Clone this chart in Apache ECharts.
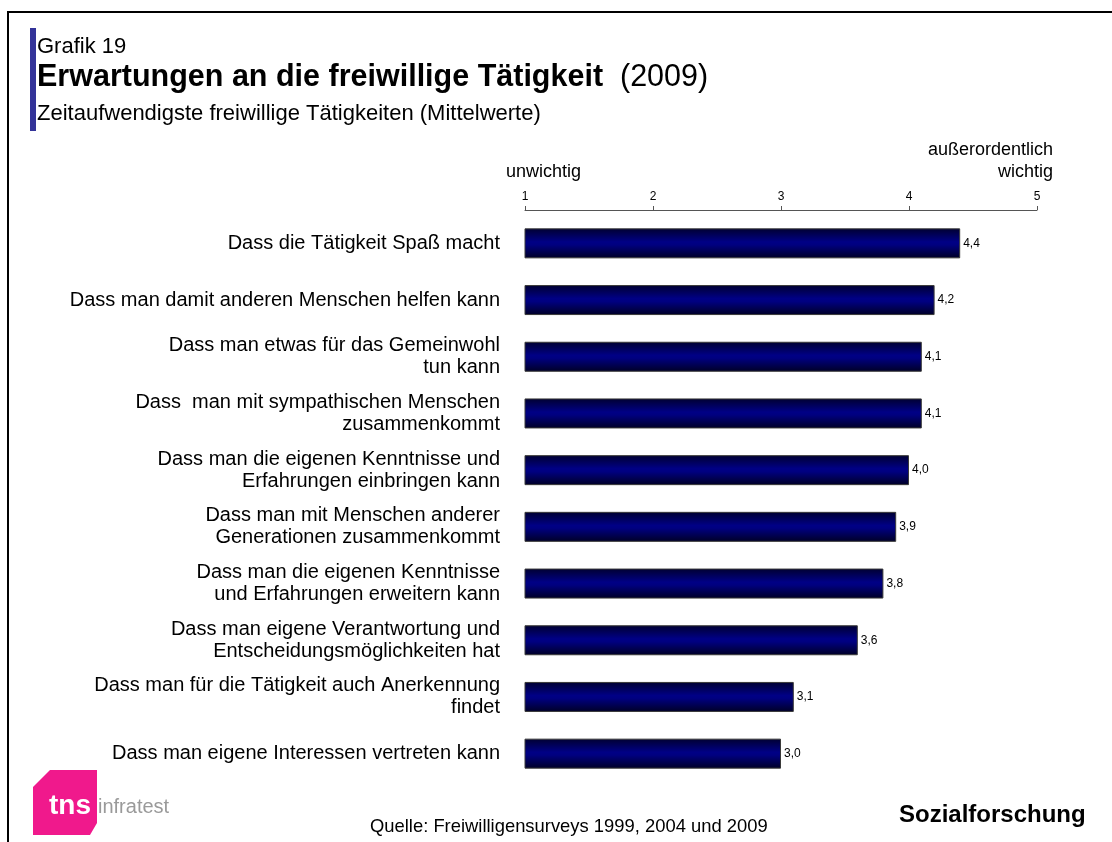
<!DOCTYPE html>
<html><head><meta charset="utf-8">
<script src="https://cdn.jsdelivr.net/npm/echarts@6/dist/echarts.min.js"></script>
<style>html,body{margin:0;padding:0;background:#fff}#c{width:1112px;height:842px}</style>
</head><body><div id="c"></div>
<script>
const categories = [
  "Dass die Tätigkeit Spaß macht",
  "Dass man damit anderen Menschen helfen kann",
  "Dass man etwas für das Gemeinwohl\ntun kann",
  "Dass  man mit sympathischen Menschen\nzusammenkommt",
  "Dass man die eigenen Kenntnisse und\nErfahrungen einbringen kann",
  "Dass man mit Menschen anderer\nGenerationen zusammenkommt",
  "Dass man die eigenen Kenntnisse\nund Erfahrungen erweitern kann",
  "Dass man eigene Verantwortung und\nEntscheidungsmöglichkeiten hat",
  "Dass man für die Tätigkeit auch Anerkennung\nfindet",
  "Dass man eigene Interessen vertreten kann"
];
const values = [4.4, 4.2, 4.1, 4.1, 4.0, 3.9, 3.8, 3.6, 3.1, 3.0];
const tickLabels = ["1", "2", "3", "4", "5"];

const FONT = "'Liberation Sans', Arial, sans-serif";
const chart = echarts.init(document.getElementById('c'), null, {renderer: 'canvas'});
chart.setOption({
  animation: false,
  textStyle: {fontFamily: FONT},
  grid: {left: 525, right: 75, top: 215, height: 567, containLabel: false},
  xAxis: {
    type: 'value', position: 'top', min: 1, max: 5, interval: 1, offset: 5,
    axisLine: {show: true, lineStyle: {color: '#555', width: 1}},
    axisTick: {show: true, length: 4, lineStyle: {color: '#555'}},
    splitLine: {show: false},
    axisLabel: {color: '#000', fontSize: 12, fontFamily: FONT, margin: 7,
      formatter: v => tickLabels[Math.round(v) - 1] || ''}
  },
  yAxis: {
    type: 'category', data: categories, inverse: true,
    axisLine: {show: false}, axisTick: {show: false},
    axisLabel: {color: '#000', fontSize: 20, fontFamily: FONT, margin: 25, lineHeight: 22, align: 'right'}
  },
  series: [{
    type: 'bar', data: values, barWidth: 30,
    itemStyle: {
      color: {type: 'linear', x: 0, y: 0, x2: 0, y2: 1, colorStops: [
        {offset: 0, color: '#000030'}, {offset: 0.45, color: '#000085'},
        {offset: 0.55, color: '#000080'}, {offset: 1, color: '#000025'}]},
      borderColor: '#3a3a3a', borderWidth: 1
    },
    label: {show: true, position: 'right', distance: 3, color: '#000', fontSize: 12, fontFamily: FONT,
      formatter: p => p.value.toFixed(1).replace('.', ',')}
  }],
  graphic: [
    {type: 'rect', shape: {x: 8, y: 12, width: 1200, height: 900}, style: {fill: 'none', stroke: '#000', lineWidth: 2}},
    {type: 'rect', shape: {x: 30, y: 28, width: 6, height: 103}, style: {fill: '#333399'}},
    {type: 'text', x: 37, y: 36, style: {text: 'Grafik 19', font: '22px ' + FONT, fill: '#000'}},
    {type: 'text', x: 37, y: 62, style: {
      text: '{b|Erwartungen an die freiwillige Tätigkeit}{n|  (2009)}',
      rich: {b: {fontSize: 30.5, fontWeight: 'bold', fontFamily: FONT, fill: '#000'},
             n: {fontSize: 30.5, fontFamily: FONT, fill: '#000'}}}},
    {type: 'text', x: 37, y: 103, style: {text: 'Zeitaufwendigste freiwillige Tätigkeiten (Mittelwerte)', font: '22px ' + FONT, fill: '#000'}},
    {type: 'text', x: 506, y: 163, style: {text: 'unwichtig', font: '18px ' + FONT, fill: '#000'}},
    {type: 'text', x: 1053, y: 141, style: {text: 'außerordentlich', font: '18px ' + FONT, fill: '#000', align: 'right'}},
    {type: 'text', x: 1053, y: 163, style: {text: 'wichtig', font: '18px ' + FONT, fill: '#000', align: 'right'}},
    {type: 'polygon', shape: {points: [[33, 787], [50, 770], [97, 770], [97, 823], [90, 835], [33, 835]]}, style: {fill: '#f0198c'}},
    {type: 'text', x: 49, y: 792, style: {text: 'tns', font: 'bold 28px ' + FONT, fill: '#fff'}},
    {type: 'text', x: 98, y: 797, style: {text: 'infratest', font: '20px ' + FONT, fill: '#9a9a9a'}},
    {type: 'text', x: 370, y: 818, style: {text: 'Quelle: Freiwilligensurveys 1999, 2004 und 2009', font: '18.4px ' + FONT, fill: '#000'}},
    {type: 'text', x: 899, y: 803, style: {text: 'Sozialforschung', font: 'bold 24px ' + FONT, fill: '#000'}}
  ]
});
</script></body></html>
